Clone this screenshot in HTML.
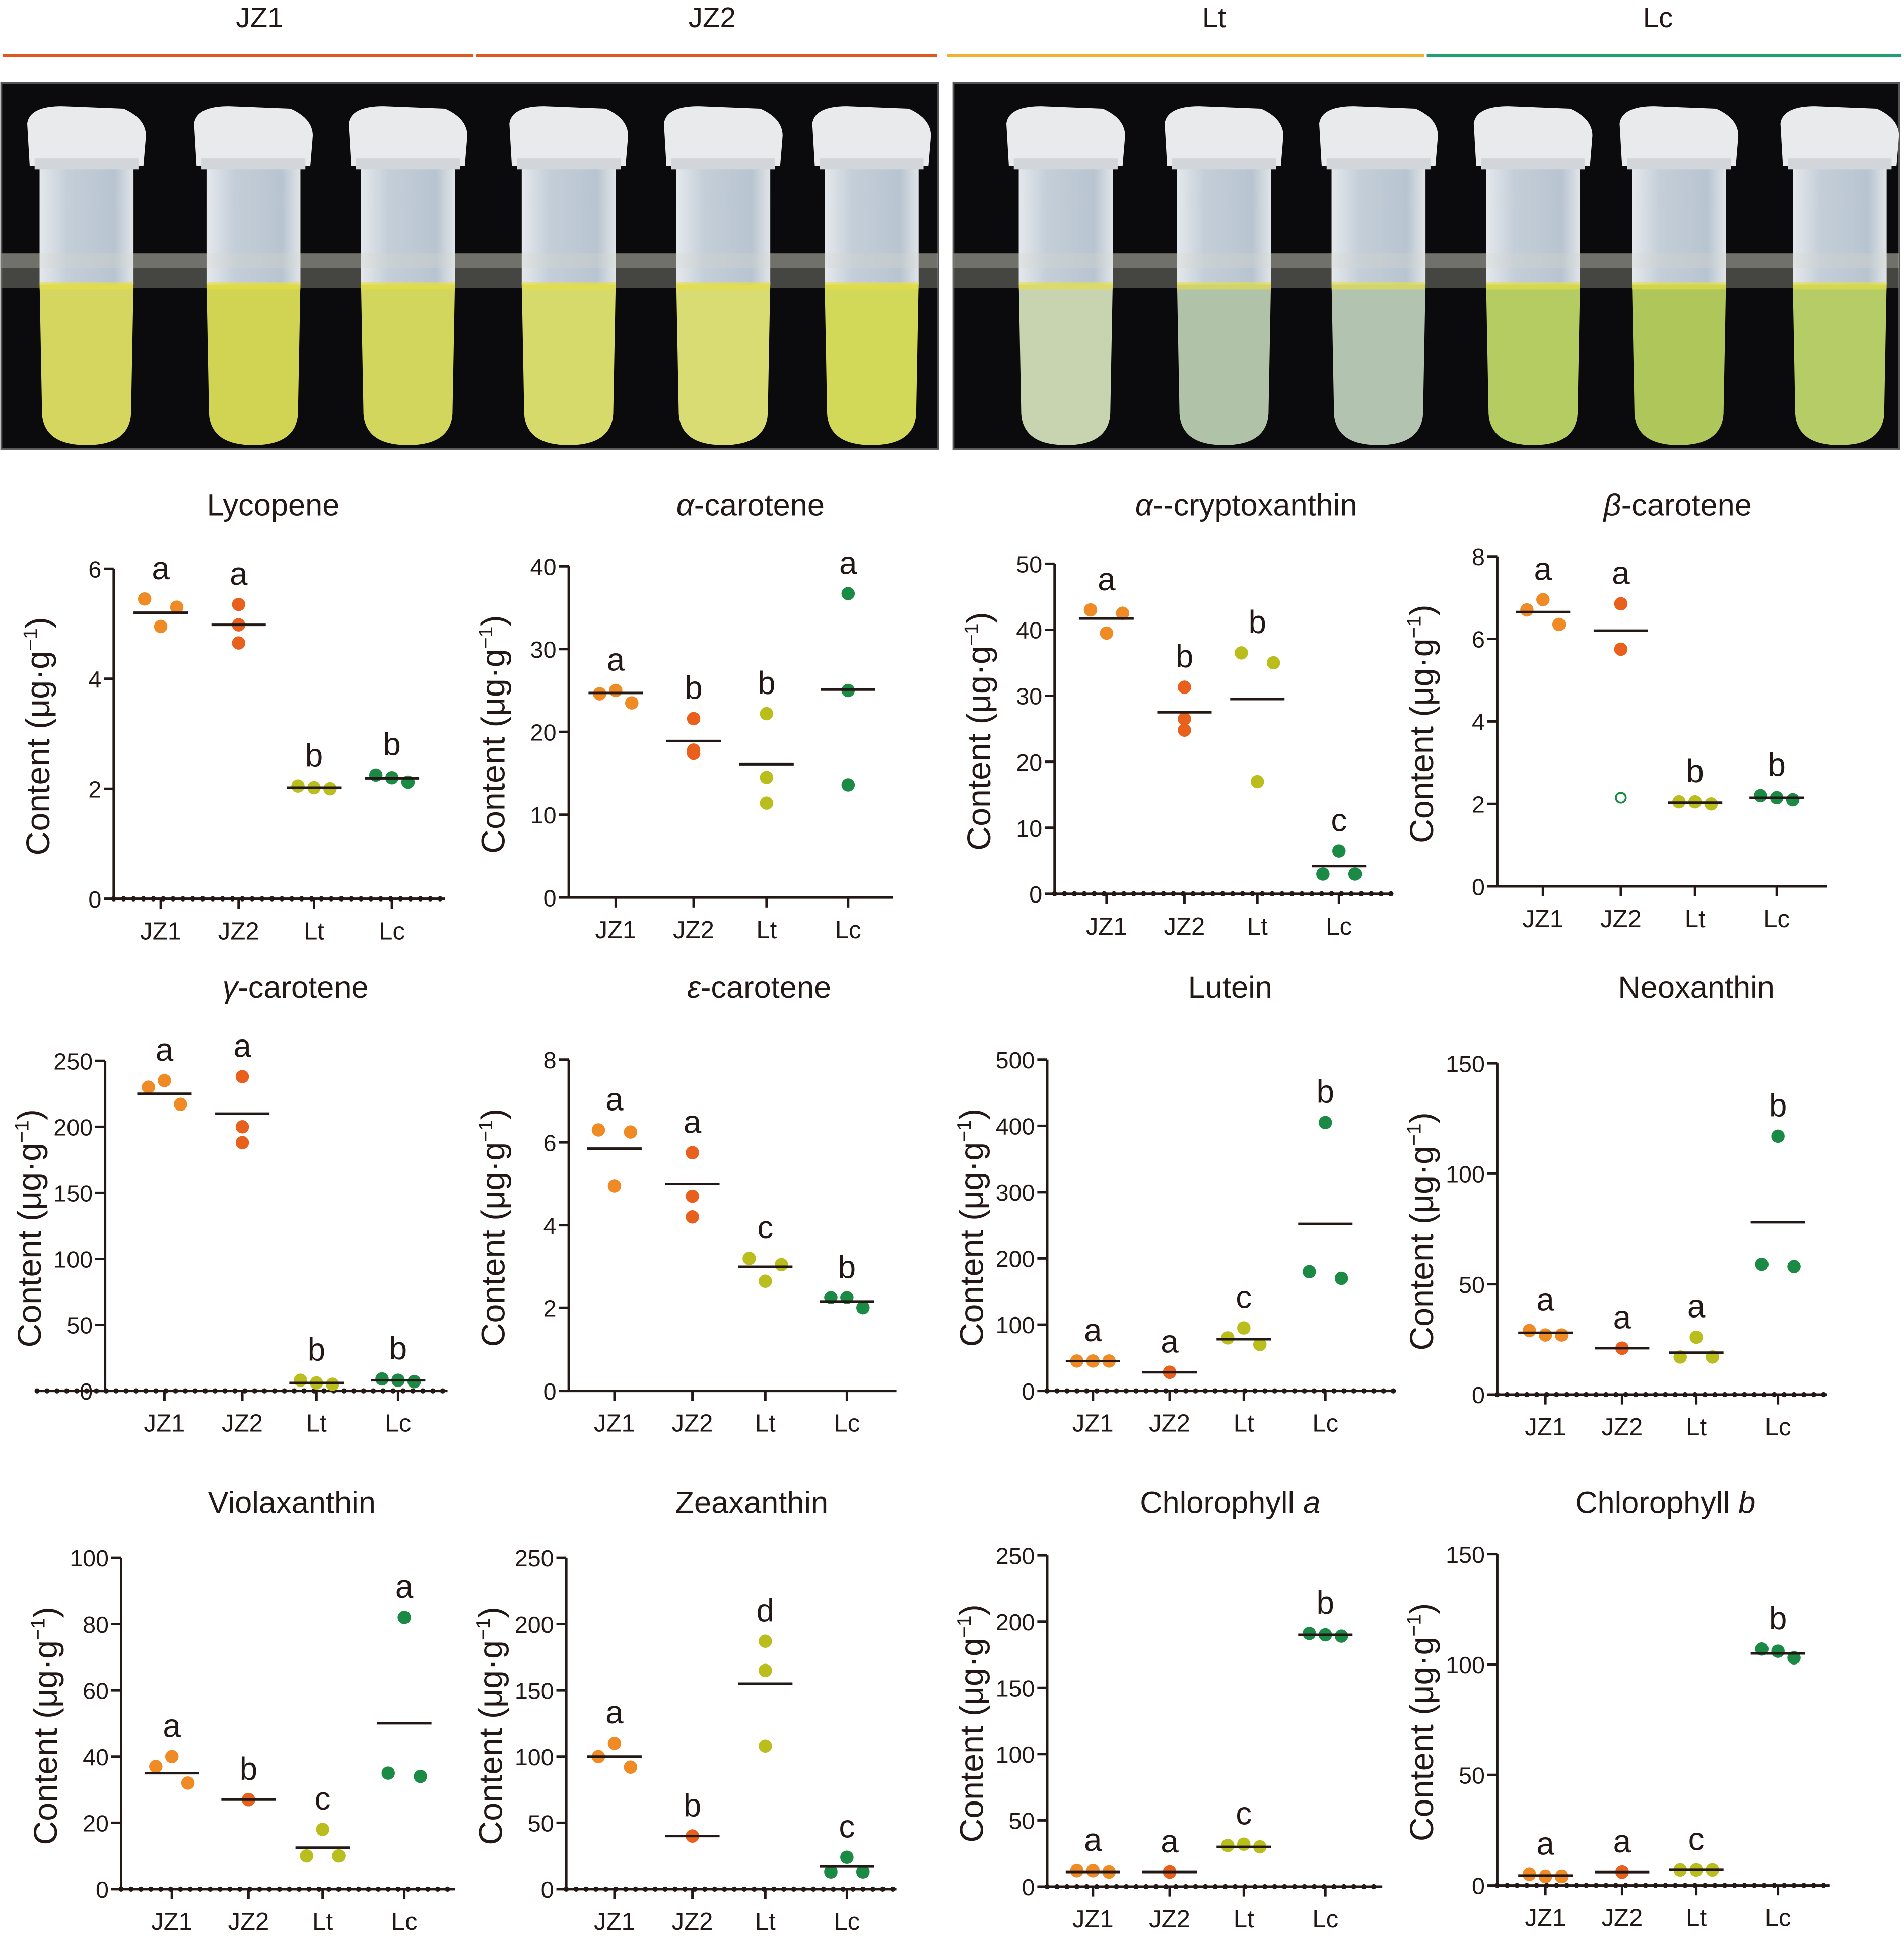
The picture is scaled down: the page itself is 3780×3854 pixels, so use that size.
<!DOCTYPE html>
<html><head><meta charset="utf-8"><style>
html,body{margin:0;padding:0;background:#fff}
svg{display:block}
text{font-family:"Liberation Sans",Arial,sans-serif;fill:#231815}
</style></head><body>
<svg id="fig" xmlns="http://www.w3.org/2000/svg" width="3780" height="3854" viewBox="0 0 1540 1570" preserveAspectRatio="none">
<defs>
<linearGradient id="glass" x1="0" x2="1" y1="0" y2="0"><stop offset="0" stop-color="#e4e8ec"/><stop offset="0.3" stop-color="#c4ced8"/><stop offset="0.8" stop-color="#b8c4d0"/><stop offset="1" stop-color="#e0e4e8"/></linearGradient>
</defs>
<g>
<text x="210" y="22" font-size="23" text-anchor="middle">JZ1</text>
<text x="576" y="22" font-size="23" text-anchor="middle">JZ2</text>
<text x="982" y="22" font-size="23" text-anchor="middle">Lt</text>
<text x="1341" y="22" font-size="23" text-anchor="middle">Lc</text>
<line x1="2" y1="45" x2="383" y2="45" stroke="#e05a1e" stroke-width="2.5"/>
<line x1="385" y1="45" x2="758" y2="45" stroke="#e05a1e" stroke-width="2.5"/>
<line x1="766" y1="45" x2="1152" y2="45" stroke="#f0b030" stroke-width="2.5"/>
<line x1="1154" y1="45" x2="1538" y2="45" stroke="#20a070" stroke-width="2.5"/>
</g>
<g id="photos"></g>
<g id="charts"></g>
</svg>
<script>
const NS="http://www.w3.org/2000/svg";
const categories=["JZ1","JZ2","Lt","Lc"];
const colors=["#f08a24","#e8601c","#b9be1c","#1a8a45"];

const lycopeneValues=[[5.45,4.95,5.3],[5.35,4.98,4.65],[2.05,2.02,2.0],[2.25,2.2,2.12]];
const lycopeneMeans=[5.2,4.98,2.02,2.19];
const lycopeneLetters=["a","a","b","b"];
const lycopeneTicks=[0,2,4,6];

const alphaCarValues=[[24.6,25.0,23.5],[21.6,17.8,17.4],[22.2,14.5,11.4],[36.7,25.0,13.6]];
const alphaCarMeans=[24.7,18.9,16.1,25.1];
const alphaCarLetters=["a","b","b","a"];
const alphaCarTicks=[0,10,20,30,40];

const cryptoValues=[[43,39.5,42.5],[31.3,26.5,24.8],[36.5,17,35],[3,6.5,3]];
const cryptoMeans=[41.7,27.5,29.5,4.2];
const cryptoLetters=["a","b","b","c"];
const cryptoTicks=[0,10,20,30,40,50];

const betaValues=[[6.7,6.95,6.35],[6.85,5.75],[2.05,2.05,2.0],[2.2,2.15,2.1]];
const betaOutliers=[null,2.15,null,null];
const betaMeans=[6.65,6.2,2.03,2.15];
const betaLetters=["a","a","b","b"];
const betaTicks=[0,2,4,6,8];

const gammaValues=[[230,235,217],[238,200,188],[8,6,5],[9,8,7]];
const gammaMeans=[225,210,6,8];
const gammaLetters=["a","a","b","b"];
const gammaTicks=[0,50,100,150,200,250];

const epsilonValues=[[6.3,4.95,6.25],[5.75,4.7,4.2],[3.2,2.65,3.05],[2.25,2.25,2.0]];
const epsilonMeans=[5.85,5.0,3.0,2.15];
const epsilonLetters=["a","a","c","b"];
const epsilonTicks=[0,2,4,6,8];

const luteinValues=[[45,45,45],[28,28,28],[80,95,70],[180,405,170]];
const luteinMeans=[45,28,78,252];
const luteinLetters=["a","a","c","b"];
const luteinTicks=[0,100,200,300,400,500];

const neoValues=[[29,27,27],[21,21,21],[17,26,17],[59,117,58]];
const neoMeans=[28,21,19,78];
const neoLetters=["a","a","a","b"];
const neoTicks=[0,50,100,150];

const violaValues=[[37,40,32],[27,27,27],[10,18,10],[35,82,34]];
const violaMeans=[35,27,12.5,50];
const violaLetters=["a","b","c","a"];
const violaTicks=[0,20,40,60,80,100];

const zeaValues=[[100,110,92],[40,40,40],[187,165,108],[13,24,13]];
const zeaMeans=[100,40,155,17];
const zeaLetters=["a","b","d","c"];
const zeaTicks=[0,50,100,150,200,250];

const chlaValues=[[12,12,11],[11,11,11],[31,32,30],[191,190,189]];
const chlaMeans=[11,11,30,190];
const chlaLetters=["a","a","c","b"];
const chlaTicks=[0,50,100,150,200,250];

const chlbValues=[[5,4,4],[6,6,6],[7,7,7],[107,106,103]];
const chlbMeans=[4.5,6,7,105];
const chlbLetters=["a","a","c","b"];
const chlbTicks=[0,50,100,150];

function mk(tag,attrs,parent){const e=document.createElementNS(NS,tag);for(const k in attrs)e.setAttribute(k,attrs[k]);parent.appendChild(e);return e;}

// photos
const ph=document.getElementById("photos");
const panels=[{x:0,w:760,cx:[70,205,330,460,585,705],liquids:["#d4d660","#d0d452","#d2d65c","#d6da6a","#d8dc72","#d2d858"]},
 {x:770,w:767,cx:[862,990,1115,1240,1358,1488],liquids:["#c8d4b0","#b0c2a8","#b2c4b0","#b4cc62","#aec65a","#b6cc66"]}];
panels.forEach((p,pi)=>{
 const r=mk("rect",{x:p.x+1,y:67,width:p.w-2,height:296,fill:"#0b0b0d",stroke:"#555",'stroke-width':1.5},ph);
 
 
 const band=mk("rect",{x:p.x+1,y:205,width:p.w-2,height:28,fill:"#8c8c80",opacity:0.45},ph);
 
 
 p.cx.forEach((cx,i)=>{
  const g=mk("g",{},ph);
  
  
  mk("path",{d:`M${cx-38} 228 L${cx+38} 228 L${cx+36} 335 Q${cx+34} 360 ${cx} 360 Q${cx-34} 360 ${cx-36} 335 Z`,fill:p.liquids[i]},g);
  mk("rect",{x:cx-38,y:130,width:76,height:100,fill:"url(#glass)"},g);
  mk("path",{d:`M${cx-46} 134 L${cx-48} 100 Q${cx-46} 86 ${cx-20} 86 L${cx+30} 88 Q${cx+48} 96 ${cx+48} 110 L${cx+46} 134 Z`,fill:"#e8eaec"},g);
  mk("rect",{x:cx-42,y:128,width:84,height:9,fill:"#d2d6da"},g);
  mk("rect",{x:cx-38,y:228,width:76,height:6,fill:"#e8e040",opacity:0.6},g);
 });
 const band2=mk("rect",{x:p.x+1,y:205,width:p.w-2,height:12,fill:"#d8d8cc",opacity:0.3},ph);
 
 
});

const charts=[
 {name:"lycopene",title:[["Lycopene",false]],vals:lycopeneValues,means:lycopeneMeans,letters:lycopeneLetters,ticks:lycopeneTicks,x0:92,x1:360,yT:460,yB:727,cats:[130,193,254,317],tx:221,ty:417,dots:1,center:[1]},
 {name:"alpha-carotene",title:[["α",true],["-carotene",false]],vals:alphaCarValues,means:alphaCarMeans,letters:alphaCarLetters,ticks:alphaCarTicks,x0:460,x1:722,yT:458,yB:726,cats:[498,561,620,686],tx:607,ty:417,dots:0,center:[1,2,3]},
 {name:"alpha-cryptoxanthin",title:[["α",true],["--cryptoxanthin",false]],vals:cryptoValues,means:cryptoMeans,letters:cryptoLetters,ticks:cryptoTicks,x0:853,x1:1125,yT:456,yB:723,cats:[895,958,1017,1083],tx:1008,ty:417,dots:1,center:[1]},
 {name:"beta-carotene",title:[["β",true],["-carotene",false]],vals:betaValues,means:betaMeans,letters:betaLetters,ticks:betaTicks,x0:1211,x1:1478,yT:450,yB:717,cats:[1248,1311,1371,1437],tx:1357,ty:417,dots:0,outliers:betaOutliers,center:[1]},
 {name:"gamma-carotene",title:[["γ",true],["-carotene",false]],vals:gammaValues,means:gammaMeans,letters:gammaLetters,ticks:gammaTicks,x0:85,x1:362,yT:858,yB:1125,cats:[133,196,256,322],tx:239,ty:807,dots:1,dotsLeft:30,center:[1]},
 {name:"epsilon-carotene",title:[["ε",true],["-carotene",false]],vals:epsilonValues,means:epsilonMeans,letters:epsilonLetters,ticks:epsilonTicks,x0:460,x1:725,yT:857,yB:1125,cats:[497,560,619,685],tx:614,ty:807,dots:0,center:[1]},
 {name:"lutein",title:[["Lutein",false]],vals:luteinValues,means:luteinMeans,letters:luteinLetters,ticks:luteinTicks,x0:847,x1:1127,yT:857,yB:1125,cats:[884,946,1006,1072],tx:995,ty:807,dots:1,center:[1]},
 {name:"neoxanthin",title:[["Neoxanthin",false]],vals:neoValues,means:neoMeans,letters:neoLetters,ticks:neoTicks,x0:1211,x1:1478,yT:860,yB:1128,cats:[1250,1312,1372,1438],tx:1372,ty:807,dots:1,center:[1]},
 {name:"violaxanthin",title:[["Violaxanthin",false]],vals:violaValues,means:violaMeans,letters:violaLetters,ticks:violaTicks,x0:98,x1:368,yT:1260,yB:1528,cats:[139,201,261,327],tx:236,ty:1224,dots:1,center:[1]},
 {name:"zeaxanthin",title:[["Zeaxanthin",false]],vals:zeaValues,means:zeaMeans,letters:zeaLetters,ticks:zeaTicks,x0:458,x1:725,yT:1260,yB:1528,cats:[497,560,619,685],tx:608,ty:1224,dots:1,center:[1,2]},
 {name:"chlorophyll-a",title:[["Chlorophyll ",false],["a",true]],vals:chlaValues,means:chlaMeans,letters:chlaLetters,ticks:chlaTicks,x0:847,x1:1118,yT:1258,yB:1526,cats:[884,946,1006,1072],tx:995,ty:1224,dots:1,center:[1]},
 {name:"chlorophyll-b",title:[["Chlorophyll ",false],["b",true]],vals:chlbValues,means:chlbMeans,letters:chlbLetters,ticks:chlbTicks,x0:1211,x1:1480,yT:1257,yB:1525,cats:[1250,1312,1372,1438],tx:1347,ty:1224,dots:1,center:[1]}
];

const root=document.getElementById("charts");
charts.forEach(c=>{
 const g=mk("g",{},root);
 
 
 const max=c.ticks[c.ticks.length-1];
 const y=v=>c.yB-(v/max)*(c.yB-c.yT);
 const t=mk("text",{x:c.tx,y:c.ty,'font-size':25,'text-anchor':'middle'},g);
 
 
 c.title.forEach(([s,it])=>{const sp=mk("tspan",it?{'font-style':'italic'}:{},t);sp.textContent=s;});
 const ylx=c.x0-52, yly=(c.yT+c.yB)/2+2;
 const yl=mk("text",{x:ylx,y:yly,'font-size':27,'text-anchor':'middle',transform:`rotate(-90 ${ylx} ${yly})`},g);
 
 
 const s1=mk("tspan",{},yl);s1.textContent="Content (μg·g";
 const s2=mk("tspan",{dy:-10,'font-size':16},yl);s2.textContent="−1";
 const s3=mk("tspan",{dy:10},yl);s3.textContent=")";
 const ya=mk("line",{x1:c.x0,y1:c.yT,x2:c.x0,y2:c.yB,stroke:"#231815",'stroke-width':2},g);
 
 
 const xa=mk("line",{x1:c.dotsLeft||c.x0,y1:c.yB,x2:c.x1,y2:c.yB,stroke:"#231815",'stroke-width':2},g);
 
 
 if(c.dots){
  for(let xx=(c.dotsLeft||c.x0);xx<=c.x1;xx+=8){
   const d=mk("circle",{cx:xx,cy:c.yB,r:2.1,fill:"#231815"},g);
   
   
  }
 }
 c.ticks.forEach(v=>{
  const tl=mk("line",{x1:c.x0-8,y1:y(v),x2:c.x0,y2:y(v),stroke:"#231815",'stroke-width':2},g);
  
  
  const tt=mk("text",{x:c.x0-10,y:y(v)+7,'font-size':19,'text-anchor':'end'},g);
  
  
  tt.textContent=v;
 });
 categories.forEach((cat,i)=>{
  const cx=c.cats[i];
  const tk=mk("line",{x1:cx,y1:c.yB,x2:cx,y2:c.yB+8,stroke:"#231815",'stroke-width':2},g);
  
  
  const lb=mk("text",{x:cx,y:c.yB+33,'font-size':20,'text-anchor':'middle'},g);
  
  
  lb.textContent=cat;
  const vals=c.vals[i];
  const isCenter=(c.center||[]).includes(i);
  const offs=(vals.length===3&&!isCenter)?[-13,0,13]:[0,0,0];
  let top=Infinity;
  vals.forEach((v,j)=>{
   const pt=mk("circle",{cx:cx+offs[j],cy:y(v),r:5.4,fill:colors[i]},g);
   
   
   top=Math.min(top,y(v));
  });
  if(c.outliers&&c.outliers[i]!=null){
   const o=mk("circle",{cx:cx,cy:y(c.outliers[i]),r:4,fill:"#fff",stroke:colors[3],'stroke-width':1.5},g);
   
   
  }
  const ml=mk("line",{x1:cx-22,y1:y(c.means[i]),x2:cx+22,y2:y(c.means[i]),stroke:"#231815",'stroke-width':2},g);
  
  
  top=Math.min(top,y(c.means[i]));
  const le=mk("text",{x:cx,y:top-16,'font-size':26,'text-anchor':'middle'},g);
  
  
  le.textContent=c.letters[i];
 });
});
</script>
</body></html>
